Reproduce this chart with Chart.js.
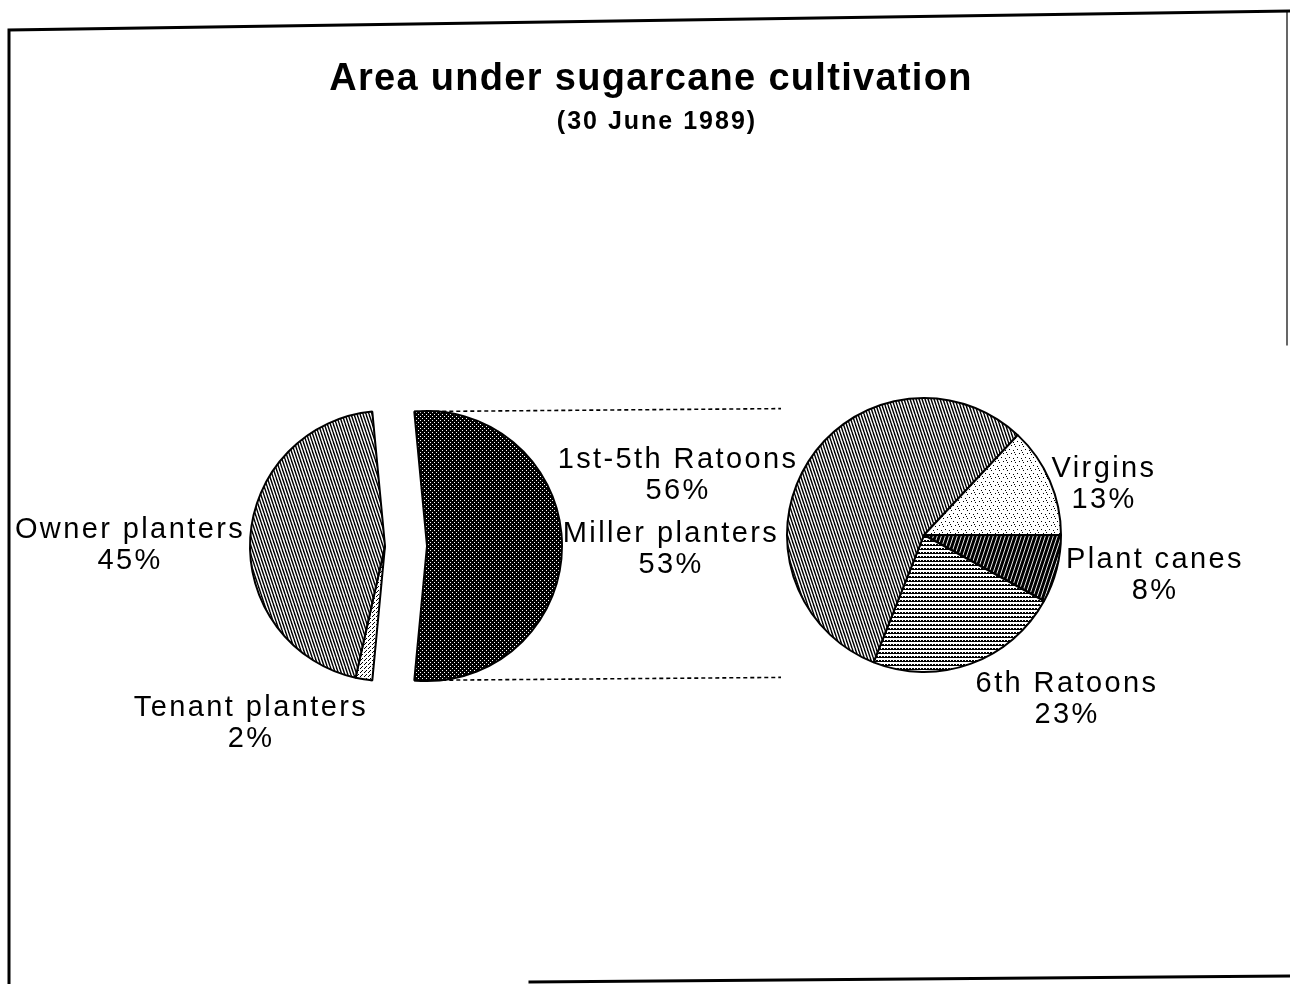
<!DOCTYPE html>
<html>
<head>
<meta charset="utf-8">
<title>Area under sugarcane cultivation</title>
<script src="https://cdn.jsdelivr.net/npm/chart.js@4.4.0/dist/chart.umd.min.js"></script>
<style>
    body { margin: 0; background: #fff; }
    #wrap { position: relative; width: 1290px; height: 984px; }
    #wrap canvas { position: absolute; left: 0; top: 0; }
</style>
</head>
<body>
<div id="wrap">
    <canvas id="leftPie" width="1290" height="984"></canvas>
    <canvas id="millerPie" width="1290" height="984"></canvas>
    <canvas id="rightPie" width="1290" height="984"></canvas>
</div>
<script>
// planters (left pie), Miller planters is split out on the right pie
var planterLabels = ["Miller planters", "Tenant planters", "Owner planters"];
var planterValues = [53, 2, 45];

// cane age of miller planters (right pie)
var caneLabels = ["Plant canes", "6th Ratoons", "1st-5th Ratoons", "Virgins"];
var caneValues = [8, 23, 56, 13];

var chartTitle = "Area under sugarcane cultivation";
var chartSubtitle = "(30 June 1989)";

var LABEL_FONT = "29px 'Liberation Sans', Arial, sans-serif";
var PIE_Y = 546;
var LEFT_X = 385;
var PULL_OUT = 42; // how far the Miller slice is pulled away

function makePattern(ctx, w, h, draw) {
    var c = document.createElement("canvas");
    c.width = w;
    c.height = h;
    var g = c.getContext("2d");
    g.fillStyle = "#fff";
    g.fillRect(0, 0, w, h);
    draw(g, w, h);
    return ctx.createPattern(c, "repeat");
}

function hatch(g, w, h, color, width, up) {
    g.strokeStyle = color;
    g.lineWidth = width;
    for (var k = -1; k <= 1; k++) {
        g.beginPath();
        if (up) {
            g.moveTo(k * w, h);
            g.lineTo(k * w + w, 0);
        } else {
            g.moveTo(k * w, 0);
            g.lineTo(k * w + w, h);
        }
        g.stroke();
    }
}

function dots(g, color, list) {
    g.fillStyle = color;
    for (var i = 0; i < list.length; i++) {
        g.fillRect(list[i][0], list[i][1], 1, 1);
    }
}

function buildPatterns(ctx) {
    return {
        lines: makePattern(ctx, 3, 9, function (g, w, h) {
            hatch(g, w, h, "#000", 1.4, false);
        }),
        lightDots: makePattern(ctx, 4, 4, function (g) {
            dots(g, "#000", [[0, 0], [2, 2], [1, 3]]);
        }),
        darkDots: makePattern(ctx, 4, 4, function (g, w, h) {
            g.fillStyle = "#000";
            g.fillRect(0, 0, w, h);
            dots(g, "#fff", [[0, 0], [2, 2]]);
        }),
        sparseDots: makePattern(ctx, 8, 8, function (g) {
            dots(g, "#000", [[1, 1], [5, 2], [3, 5], [7, 6], [6, 4]]);
        }),
        darkLines: makePattern(ctx, 4, 12, function (g, w, h) {
            g.fillStyle = "#000";
            g.fillRect(0, 0, w, h);
            hatch(g, w, h, "#fff", 0.9, true);
        }),
        rowDots: makePattern(ctx, 3, 4, function (g) {
            g.fillStyle = "#000";
            g.fillRect(0, 0, 2, 2);
            g.fillRect(2, 1, 1, 1);
        })
    };
}

function drawLines(ctx, x, y, lines) {
    ctx.save();
    ctx.font = LABEL_FONT;
    ctx.letterSpacing = "2.4px";
    ctx.fillStyle = "#000";
    ctx.textAlign = "center";
    ctx.textBaseline = "alphabetic";
    for (var i = 0; i < lines.length; i++) {
        ctx.fillText(lines[i], x, y + i * 31);
    }
    ctx.restore();
}

// where each label block sits, relative to its pie centre
var planterSpots = [[286, -4], [-134, 170], [-255, -8]];
var caneSpots = [[231, 33], [143, 157], [-246, -67], [180, -58]];

function labelPlugin(labels, values, spots) {
    return {
        id: "sliceLabels",
        afterDraw: function (chart) {
            var ctx = chart.ctx;
            var meta = chart.getDatasetMeta(0);
            var cx = meta.data[0].x;
            var cy = meta.data[0].y;
            for (var i = 0; i < labels.length; i++) {
                drawLines(ctx, cx + spots[i][0], cy + spots[i][1], [labels[i], values[i] + "%"]);
            }
        }
    };
}

var framePlugin = {
    id: "frame",
    beforeDraw: function (chart) {
        var ctx = chart.ctx;
        ctx.save();
        ctx.strokeStyle = "#000";
        ctx.lineCap = "square";
        ctx.lineWidth = 3;
        ctx.beginPath();
        ctx.moveTo(9, 984);
        ctx.lineTo(9, 30);
        ctx.lineTo(1290, 11);
        ctx.stroke();
        ctx.beginPath();
        ctx.moveTo(530, 982);
        ctx.lineTo(1290, 976);
        ctx.stroke();
        ctx.lineWidth = 1.2;
        ctx.beginPath();
        ctx.moveTo(1287, 12);
        ctx.lineTo(1287, 345);
        ctx.stroke();

        ctx.fillStyle = "#000";
        ctx.textAlign = "center";
        ctx.textBaseline = "alphabetic";
        ctx.font = "bold 38px 'Liberation Sans', Arial, sans-serif";
        ctx.letterSpacing = "1.3px";
        ctx.fillText(chartTitle, 651, 90);
        ctx.font = "bold 25px 'Liberation Sans', Arial, sans-serif";
        ctx.letterSpacing = "2px";
        ctx.fillText(chartSubtitle, 657, 129);
        ctx.restore();
    }
};

var rightChart;

// dotted lines from the pulled-out slice over to the second pie
var connectorPlugin = {
    id: "connectors",
    beforeDatasetsDraw: function (chart) {
        if (!rightChart) return;
        var arc = chart.getDatasetMeta(0).data[0];
        var r = arc.outerRadius;
        var target = rightChart.getDatasetMeta(0).data[0];
        var endX = target.x - target.outerRadius - 6;
        var ctx = chart.ctx;
        ctx.save();
        ctx.strokeStyle = "#000";
        ctx.lineWidth = 1.6;
        ctx.setLineDash([4, 3]);
        var ends = [arc.startAngle, arc.endAngle];
        for (var i = 0; i < ends.length; i++) {
            var px = arc.x + Math.cos(ends[i]) * r;
            var py = arc.y + Math.sin(ends[i]) * r;
            ctx.beginPath();
            ctx.moveTo(px, py);
            ctx.lineTo(endX, py - 3);
            ctx.stroke();
        }
        ctx.restore();
    }
};

function sum(arr) {
    var t = 0;
    for (var i = 0; i < arr.length; i++) t += arr[i];
    return t;
}

function pieOptions(rotation, radius, cx, cy) {
    return {
        responsive: false,
        animation: false,
        devicePixelRatio: 1,
        rotation: rotation,
        radius: radius,
        layout: { padding: { left: cx - radius, right: 1290 - cx - radius, top: cy - radius, bottom: 984 - cy - radius } },
        plugins: {
            legend: { display: false },
            tooltip: { enabled: false }
        }
    };
}

function drawCharts() {
    var rightCtx = document.getElementById("rightPie").getContext("2d");
    var millerCtx = document.getElementById("millerPie").getContext("2d");
    var leftCtx = document.getElementById("leftPie").getContext("2d");
    var rp = buildPatterns(rightCtx);
    var mp = buildPatterns(millerCtx);
    var lp = buildPatterns(leftCtx);

    rightChart = new Chart(rightCtx, {
        type: "pie",
        data: {
            labels: caneLabels,
            datasets: [{
                data: caneValues,
                backgroundColor: [rp.darkLines, rp.rowDots, rp.lines, rp.sparseDots],
                borderColor: "#000",
                borderWidth: 2
            }]
        },
        options: pieOptions(90, 137, 924, 535),
        plugins: [labelPlugin(caneLabels, caneValues, caneSpots)]
    });

    // turn the pie so the Miller planters slice is centred on the right
    // (chart.js starts at 12 o'clock, so add 90 degrees)
    var millerTurn = 90 - (planterValues[0] / sum(planterValues) * 360) / 2;

    // the pie without the Miller slice
    new Chart(leftCtx, {
        type: "pie",
        data: {
            labels: planterLabels,
            datasets: [{
                data: planterValues,
                backgroundColor: ["rgba(0,0,0,0)", lp.lightDots, lp.lines],
                borderColor: "#000",
                borderWidth: [0, 2, 2]
            }]
        },
        options: pieOptions(millerTurn, 135, LEFT_X, PIE_Y),
        plugins: [framePlugin, labelPlugin(planterLabels, planterValues, planterSpots)]
    });

    // the Miller slice on its own, pulled out to the right
    new Chart(millerCtx, {
        type: "pie",
        data: {
            labels: planterLabels,
            datasets: [{
                data: planterValues,
                backgroundColor: [mp.darkDots, "rgba(0,0,0,0)", "rgba(0,0,0,0)"],
                borderColor: "#000",
                borderWidth: [2, 0, 0]
            }]
        },
        options: pieOptions(millerTurn, 135, LEFT_X + PULL_OUT, PIE_Y),
        plugins: [connectorPlugin]
    });
}

drawCharts();
</script>
</body>
</html>
